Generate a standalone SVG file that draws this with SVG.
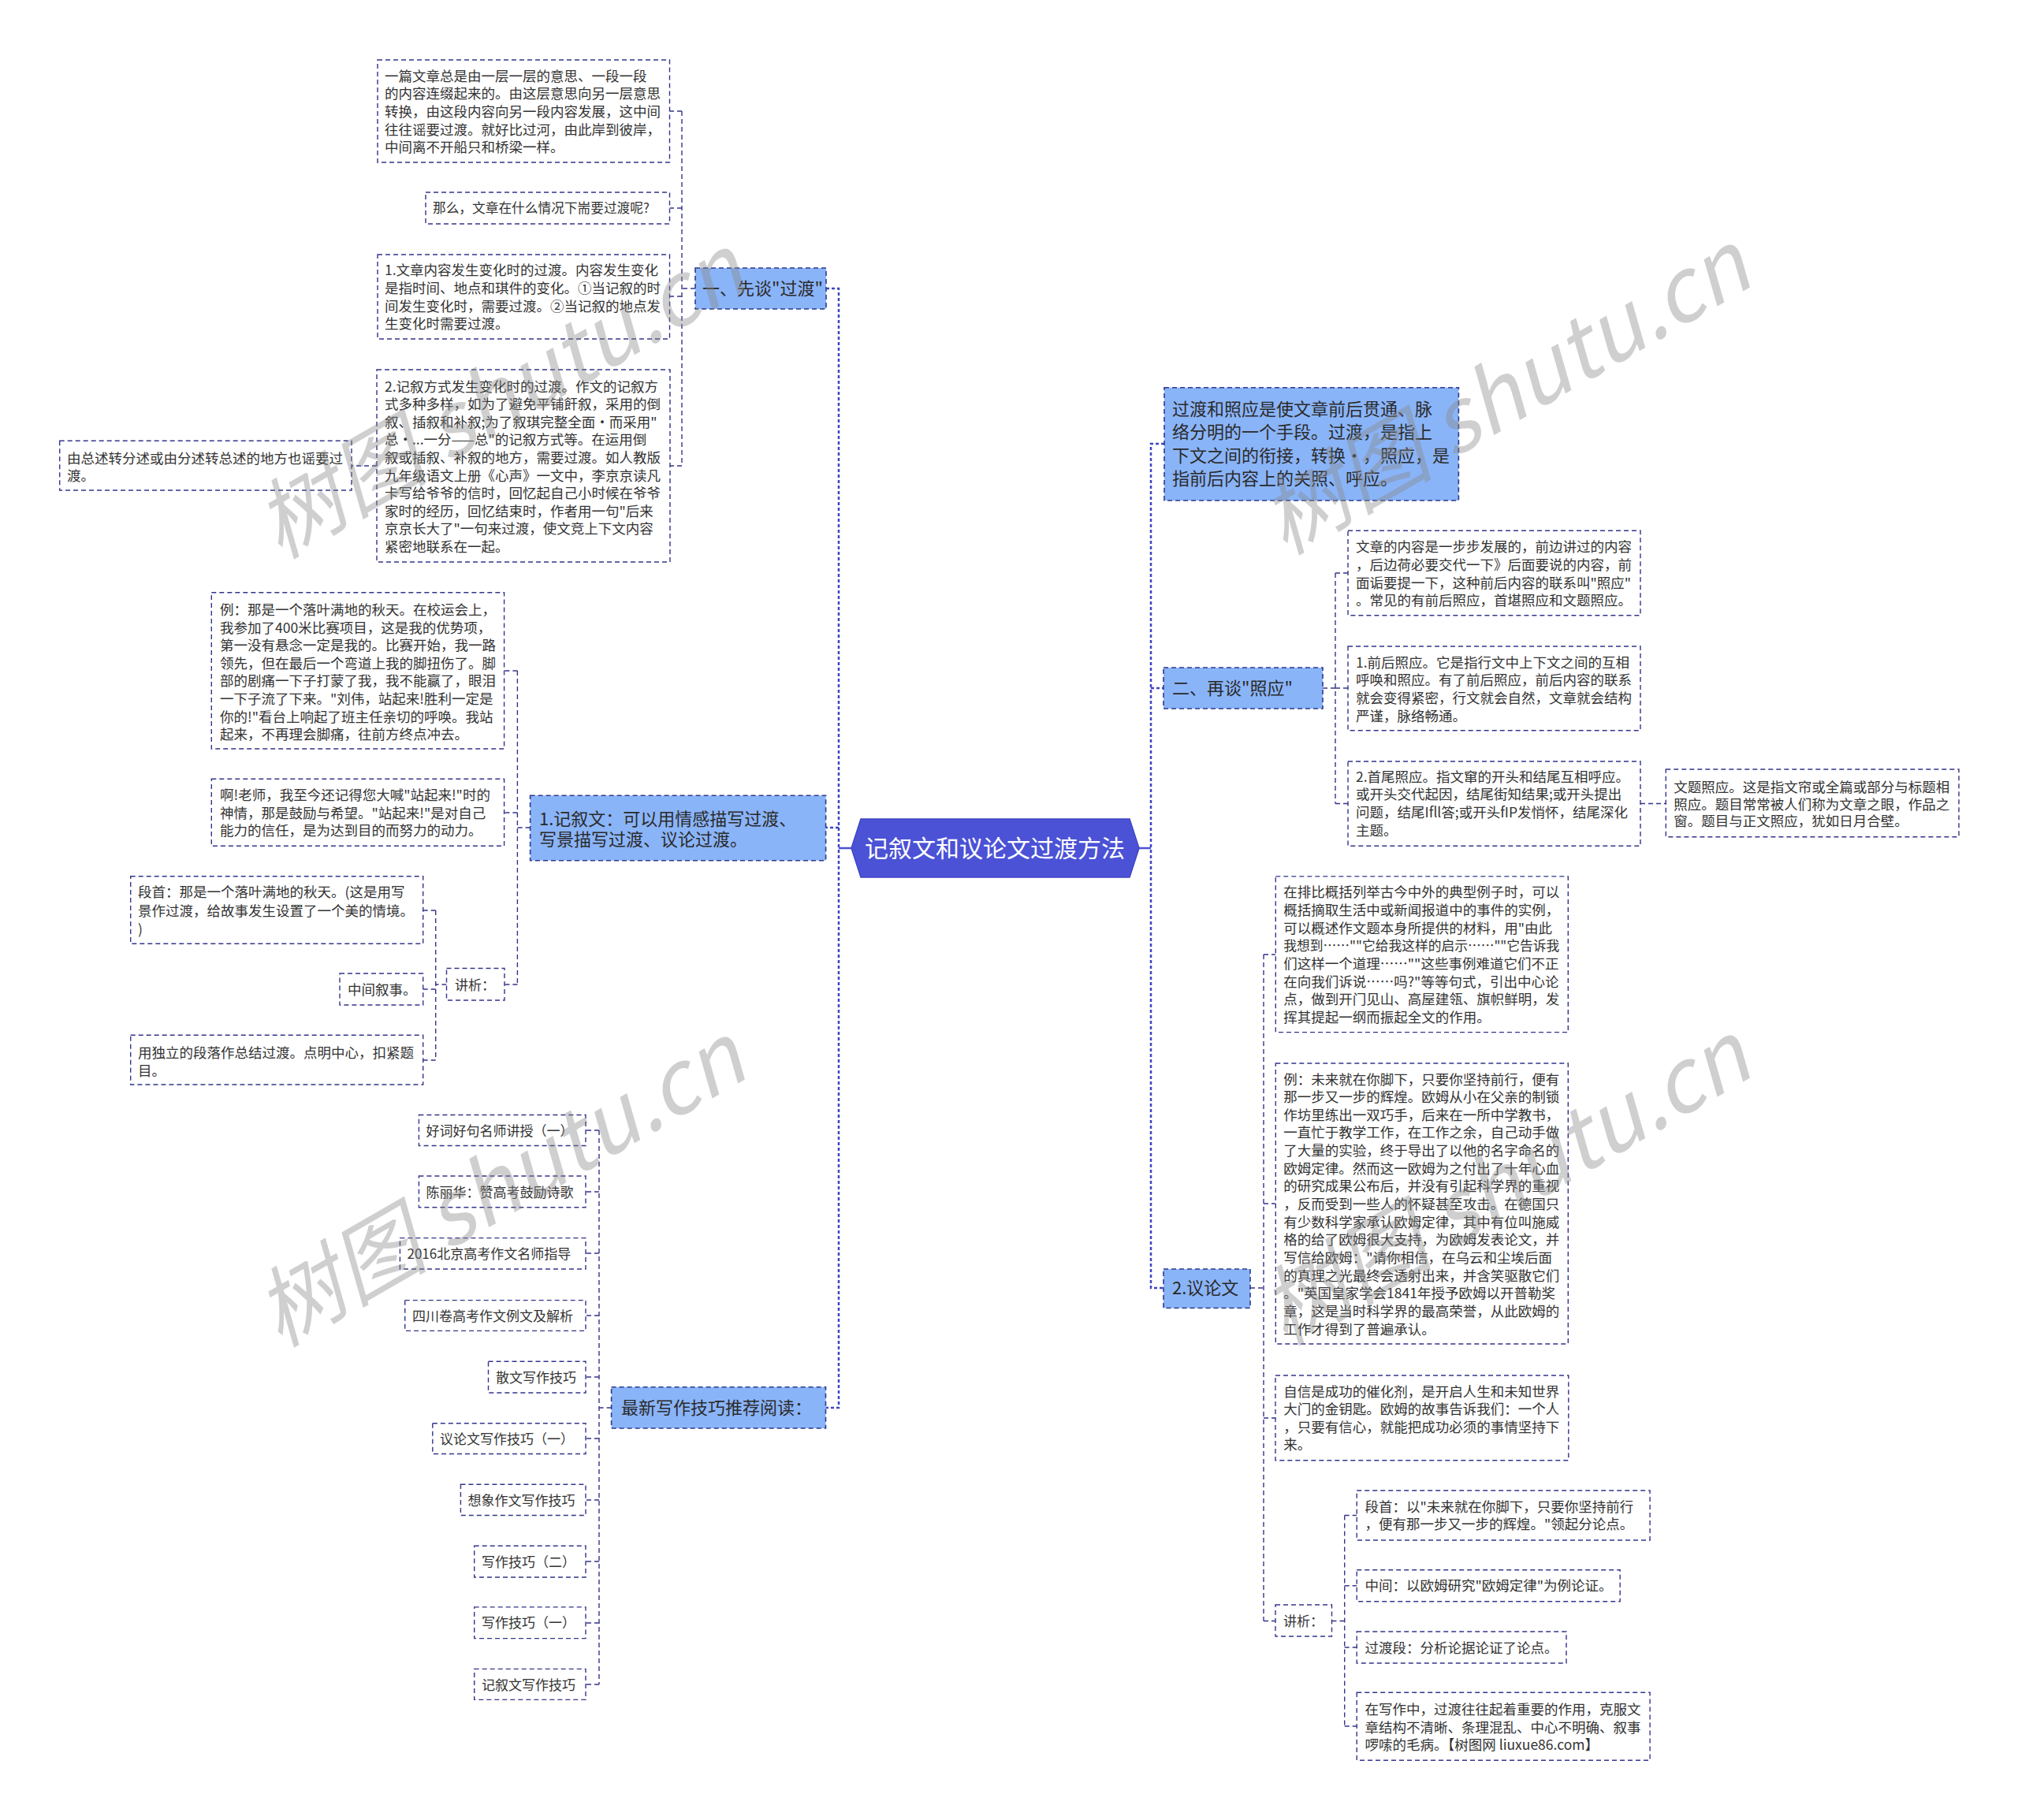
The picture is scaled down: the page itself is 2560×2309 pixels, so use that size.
<svg xmlns="http://www.w3.org/2000/svg" width="2560" height="2309" viewBox="0 0 2560 2309">
<style>
.bx{fill:#fff;stroke:#34348c;stroke-width:1.4;stroke-dasharray:6 4}
.l1{fill:#8ab4f8;stroke:#2d3a8e;stroke-width:1.6;stroke-dasharray:6 4}
.t{font-family:"Noto Sans CJK SC","Microsoft YaHei",sans-serif;font-size:17.5px;fill:#333}
.s{font-size:17px}
.t1{font-family:"Noto Sans CJK SC","Microsoft YaHei",sans-serif;font-size:22px;fill:#2a2a2a}
.rt{font-family:"Noto Sans CJK SC","Microsoft YaHei",sans-serif;font-size:30px;fill:#fff}
.c2{fill:none;stroke:#34348c;stroke-width:1.4;stroke-dasharray:6 4}
.c1{fill:none;stroke:#3d45c4;stroke-width:2.5;stroke-dasharray:4 3}
.c0{fill:none;stroke:#4b52d6;stroke-width:2.5}
.wm{font-family:"Noto Sans CJK SC","DejaVu Sans",sans-serif;font-style:italic;font-size:110px;fill:#888;opacity:0.4}
</style>
<rect width="2560" height="2309" fill="#fff"/>

<g id="connectors">
  <path class="c0" d="M1080,1076H1064M1445,1076H1460"/>
  <path class="c1" d="M1048,366H1064V1786H1047.5M1064,1050H1047.6"/>
  <path class="c1" d="M1477,563H1460V1634H1476M1460,873H1476"/>
  <path class="c2" d="M882,366H865M865,141V591M865,141H849.5M865,264H849.5M865,376H849.5M865,591H850M478,591H446"/>
  <path class="c2" d="M672.6,1050H656.4M656.4,851V1249M656.4,851H639.6M656.4,1031H639.6M656.4,1249H566.5"/>
  <path class="c2" d="M566.5,1249H552.7M552.7,1155V1345M552.7,1155H536.7M552.7,1255H536.7M552.7,1345H536.7"/>
  <path class="c2" d="M775.6,1786H760M760,1434V2137M760,1434H743M760,1512H743M760,1590H743M760,1669H743M760,1747H743M760,1825H743M760,1903H743M760,1981H743M760,2059H743M760,2137H743"/>
  <path class="c2" d="M1678,873H1694M1694,727V1019.5M1694,727H1710M1694,873H1710M1694,1019.5H1710M2081,1019.5H2113"/>
  <path class="c2" d="M1586,1634H1603M1603,1211V2056.5M1603,1211H1618M1603,1527H1618M1603,1799H1618M1603,2056.5H1618"/>
  <path class="c2" d="M1689.5,2056.5H1705.7M1705.7,1922.5V2190M1705.7,1922.5H1721M1705.7,2011.7H1721M1705.7,2090H1721M1705.7,2190H1721"/>
</g>

<g id="root">
  <polygon points="1080,1076 1092,1039 1433,1039 1445,1076 1433,1113 1092,1113" fill="#4b52d6" stroke="#3f46c8" stroke-width="1.5"/>
  <text class="rt" x="1262" y="1087.4" text-anchor="middle">记叙文和议论文过渡方法</text>
</g>

<g id="n-guodu">
  <rect class="l1" x="882" y="340" width="166" height="52"/>
  <text class="t1" x="891" y="374.4">一、先谈"过渡"</text>
</g>
<g id="n-a">
  <rect class="bx" x="479" y="76" width="370.5" height="130"/>
  <text class="t" x="488" y="102.6"><tspan x="488">一篇文章总是由一层一层的意思、一段一段</tspan><tspan x="488" dy="22.7">的内容连缀起来的。由这层意思向另一层意思</tspan><tspan x="488" dy="22.7">转换，由这段内容向另一段内容发展，这中间</tspan><tspan x="488" dy="22.7">往往谣要过渡。就好比过河，由此岸到彼岸，</tspan><tspan x="488" dy="22.7">中间离不开船只和桥梁一样。</tspan></text>
</g>
<g id="n-b">
  <rect class="bx" x="540" y="244" width="309.5" height="40"/>
  <text class="t" x="549" y="270.4" style="font-size:16.7px">那么，文章在什么情况下耑要过渡呢?</text>
</g>
<g id="n-c">
  <rect class="bx" x="479" y="323" width="370.5" height="107"/>
  <text class="t" x="488" y="349.3"><tspan x="488">1.文章内容发生变化时的过渡。内容发生变化</tspan><tspan x="488" dy="22.6">是指时间、地点和琪件的变化。①当记叙的时</tspan><tspan x="488" dy="22.6">间发生变化时，需要过渡。②当记叙的地点发</tspan><tspan x="488" dy="22.6">生变化时需要过渡。</tspan></text>
</g>
<g id="n-d">
  <rect class="bx" x="478" y="469" width="372" height="244"/>
  <text class="t" x="488" y="496.6"><tspan x="488">2.记叙方式发生变化时的过渡。作文的记叙方</tspan><tspan x="488" dy="22.6">式多种多样，如为了避免平铺飦叙，采用的倒</tspan><tspan x="488" dy="22.6">叙、插叙和补叙;为了叙琪完整全面•而采用"</tspan><tspan x="488" dy="22.6">总•...一分——总"的记叙方式等。在运用倒</tspan><tspan x="488" dy="22.6">叙或插叙、补叙的地方，需要过渡。如人教版</tspan><tspan x="488" dy="22.6">九年级语文上册《心声》一文中，李京京读凡</tspan><tspan x="488" dy="22.6">卡写给爷爷的信时，回忆起自己小时候在爷爷</tspan><tspan x="488" dy="22.6">家时的经历，回忆结束时，作者用一句"后来</tspan><tspan x="488" dy="22.6">京京长大了"一句来过渡，使文竞上下文内容</tspan><tspan x="488" dy="22.6">紧密地联系在一起。</tspan></text>
</g>
<g id="n-e">
  <rect class="bx" x="75.7" y="559.3" width="370.3" height="62.7"/>
  <text class="t" x="85" y="588.3"><tspan x="85">由总述转分述或由分述转总述的地方也谣要过</tspan><tspan x="85" dy="22">渡。</tspan></text>
</g>

<g id="n-jixuwen">
  <rect class="l1" x="672.6" y="1009.3" width="375" height="82.4"/>
  <text class="t1" x="684" y="1046.7"><tspan x="684">1.记叙文：可以用情感描写过渡、</tspan><tspan x="684" dy="26.7">写景描写过渡、议论过渡。</tspan></text>
</g>
<g id="n-f">
  <rect class="bx" x="268.3" y="751.7" width="371.3" height="198.3"/>
  <text class="t" x="279" y="780"><tspan x="279">例：那是一个落叶满地的秋天。在校运会上，</tspan><tspan x="279" dy="22.6">我参加了400米比赛项目，这是我的优势项，</tspan><tspan x="279" dy="22.6">第一没有悬念一定是我的。比赛开始，我一路</tspan><tspan x="279" dy="22.6">领先，但在最后一个弯道上我的脚扭伤了。脚</tspan><tspan x="279" dy="22.6">部的剧痛一下子打蒙了我，我不能赢了，眼泪</tspan><tspan x="279" dy="22.6">一下子流了下来。"刘伟，站起来!胜利一定是</tspan><tspan x="279" dy="22.6">你的!"看台上响起了班主任亲切的呼唤。我站</tspan><tspan x="279" dy="22.6">起来，不再理会脚痛，往前方终点冲去。</tspan></text>
</g>
<g id="n-g">
  <rect class="bx" x="268.3" y="988.3" width="371.3" height="85"/>
  <text class="t" x="279" y="1015"><tspan x="279">啊!老师，我至今还记得您大喊"站起来!"时的</tspan><tspan x="279" dy="22.5">神情，那是鼓励与希望。"站起来!"是对自己</tspan><tspan x="279" dy="22.5">能力的信任，是为达到目的而努力的动力。</tspan></text>
</g>
<g id="n-jiangxi1">
  <rect class="bx" x="566.5" y="1228.5" width="73.5" height="40.5"/>
  <text class="t s" x="577" y="1255.5">讲析：</text>
</g>
<g id="n-h">
  <rect class="bx" x="165.7" y="1111.7" width="371" height="85.6"/>
  <text class="t" x="175" y="1138.3"><tspan x="175">段首：那是一个落叶满地的秋天。(这是用写</tspan><tspan x="175" dy="23.3">景作过渡，给故事发生设置了一个美的情境。</tspan><tspan x="175" dy="23.3">)</tspan></text>
</g>
<g id="n-i">
  <rect class="bx" x="431" y="1235" width="105.7" height="40"/>
  <text class="t" x="441" y="1261.6">中间叙事。</text>
</g>
<g id="n-j">
  <rect class="bx" x="165.7" y="1313.3" width="371" height="62.7"/>
  <text class="t" x="175" y="1341.6"><tspan x="175">用独立的段落作总结过渡。点明中心，扣紧题</tspan><tspan x="175" dy="23.3">目。</tspan></text>
</g>

<g id="n-zuixin">
  <rect class="l1" x="775.6" y="1759.7" width="271.9" height="52.3"/>
  <text class="t1" x="788" y="1794.4">最新写作技巧推荐阅读：</text>
</g>
<g id="n-k1"><rect class="bx" x="531.4" y="1414.5" width="211.6" height="39"/><text class="t s" x="540.5" y="1440.5">好词好句名师讲授（一）</text></g>
<g id="n-k2"><rect class="bx" x="531.4" y="1492" width="211.6" height="39.8"/><text class="t s" x="540.5" y="1518.5">陈丽华：赞高考鼓励诗歌</text></g>
<g id="n-k3"><rect class="bx" x="507.4" y="1570.6" width="235.6" height="39.4"/><text class="t s" x="516.5" y="1596.8">2016北京高考作文名师指导</text></g>
<g id="n-k4"><rect class="bx" x="513.7" y="1649.6" width="229.3" height="38.8"/><text class="t s" x="523" y="1675.5">四川卷高考作文例文及解析</text></g>
<g id="n-k5"><rect class="bx" x="619.5" y="1727.2" width="123.5" height="39.8"/><text class="t s" x="629" y="1753.6">散文写作技巧</text></g>
<g id="n-k6"><rect class="bx" x="548.8" y="1805.7" width="194.2" height="38.8"/><text class="t s" x="558" y="1831.6">议论文写作技巧（一）</text></g>
<g id="n-k7"><rect class="bx" x="584.4" y="1883.3" width="158.6" height="39.2"/><text class="t s" x="593.5" y="1909.5">想象作文写作技巧</text></g>
<g id="n-k8"><rect class="bx" x="601.7" y="1961.3" width="141.3" height="39.7"/><text class="t s" x="611" y="1987.6">写作技巧（二）</text></g>
<g id="n-k9"><rect class="bx" x="601.7" y="2038.9" width="141.3" height="39.7"/><text class="t s" x="611" y="2065.3">写作技巧（一）</text></g>
<g id="n-k10"><rect class="bx" x="601.7" y="2117.4" width="141.3" height="39"/><text class="t s" x="611" y="2143.5">记叙文写作技巧</text></g>

<g id="n-intro">
  <rect class="l1" x="1477" y="491.7" width="373.4" height="143.3"/>
  <text class="t1" x="1487" y="526.7"><tspan x="1487">过渡和照应是使文章前后贯通、脉</tspan><tspan x="1487" dy="29.5">络分明的一个手段。过渡，是指上</tspan><tspan x="1487" dy="29.5">下文之间的衔接，转换•，照应，是</tspan><tspan x="1487" dy="29.5">指前后内容上的关照、呼应。</tspan></text>
</g>
<g id="n-zhaoying">
  <rect class="l1" x="1476" y="847" width="202" height="52"/>
  <text class="t1" x="1487" y="881.4">二、再谈"照应"</text>
</g>
<g id="n-l">
  <rect class="bx" x="1710" y="673.3" width="371" height="107.4"/>
  <text class="t" x="1720" y="700"><tspan x="1720">文章的内容是一步步发展的，前边讲过的内容</tspan><tspan x="1720" dy="22.8">，后边荷必要交代一下》后面要说的内容，前</tspan><tspan x="1720" dy="22.8">面诟要提一下，这种前后内容的联系叫"照应"</tspan><tspan x="1720" dy="22.8">。常见的有前后照应，首堪照应和文题照应。</tspan></text>
</g>
<g id="n-m">
  <rect class="bx" x="1710" y="820" width="371" height="106.7"/>
  <text class="t" x="1720" y="846.6"><tspan x="1720">1.前后照应。它是指行文中上下文之间的互相</tspan><tspan x="1720" dy="22.8">呼唤和照应。有了前后照应，前后内容的联系</tspan><tspan x="1720" dy="22.8">就会变得紧密，行文就会自然，文章就会结构</tspan><tspan x="1720" dy="22.8">严谨，脉络畅通。</tspan></text>
</g>
<g id="n-n">
  <rect class="bx" x="1710" y="966" width="371" height="107.3"/>
  <text class="t" x="1720" y="991.6"><tspan x="1720">2.首尾照应。指文窜的开头和结尾互相呼应。</tspan><tspan x="1720" dy="22.8">或开头交代起因，结尾街知结果;或开头提出</tspan><tspan x="1720" dy="22.8">问题，结尾Ifll答;或开头fIP发悄怀，结尾深化</tspan><tspan x="1720" dy="22.8">主题。</tspan></text>
</g>
<g id="n-o">
  <rect class="bx" x="2113.3" y="976" width="371.7" height="85.7"/>
  <text class="t" x="2123.3" y="1005"><tspan x="2123.3">文题照应。这是指文帘或全篇或部分与标题相</tspan><tspan x="2123.3" dy="21.7">照应。题目常常被人们称为文章之眼，作品之</tspan><tspan x="2123.3" dy="21.7">窗。题目与正文照应，犹如日月合壁。</tspan></text>
</g>

<g id="n-yilunwen">
  <rect class="l1" x="1476" y="1610" width="110" height="49.5"/>
  <text class="t1" x="1487" y="1642.4">2.议论文</text>
</g>
<g id="n-p">
  <rect class="bx" x="1618.3" y="1111.9" width="371" height="197.7"/>
  <text class="t" x="1628.3" y="1138.2"><tspan x="1628.3">在排比概括列举古今中外的典型例子时，可以</tspan><tspan x="1628.3" dy="22.7">概括摘取生活中或新闻报道中的事件的实例，</tspan><tspan x="1628.3" dy="22.7">可以概述作文题本身所提供的材料，用"由此</tspan><tspan x="1628.3" dy="22.7" textLength="350" lengthAdjust="spacingAndGlyphs">我想到……""它给我这样的启示……""它告诉我</tspan><tspan x="1628.3" dy="22.7">们这样一个道理……""这些事例难道它们不正</tspan><tspan x="1628.3" dy="22.7">在向我们诉说……吗?"等等句式，引出中心论</tspan><tspan x="1628.3" dy="22.7">点，做到开门见山、高屋建瓴、旗帜鲜明，发</tspan><tspan x="1628.3" dy="22.7">挥其提起一纲而振起全文的作用。</tspan></text>
</g>
<g id="n-q">
  <rect class="bx" x="1618.3" y="1349" width="371" height="356"/>
  <text class="t" x="1628.3" y="1375.5"><tspan x="1628.3">例：未来就在你脚下，只要你坚持前行，便有</tspan><tspan x="1628.3" dy="22.65">那一步又一步的辉煌。欧姆从小在父亲的制锁</tspan><tspan x="1628.3" dy="22.65">作坊里练出一双巧手，后来在一所中学教书，</tspan><tspan x="1628.3" dy="22.65">一直忙于教学工作，在工作之余，自己动手做</tspan><tspan x="1628.3" dy="22.65">了大量的实验，终于导出了以他的名字命名的</tspan><tspan x="1628.3" dy="22.65">欧姆定律。然而这一欧姆为之付出了十年心血</tspan><tspan x="1628.3" dy="22.65">的研究成果公布后，并没有引起科学界的重视</tspan><tspan x="1628.3" dy="22.65">，反而受到一些人的怀疑甚至攻击。在德国只</tspan><tspan x="1628.3" dy="22.65">有少数科学家承认欧姆定律，其中有位叫施威</tspan><tspan x="1628.3" dy="22.65">格的给了欧姆很大支持，为欧姆发表论文，并</tspan><tspan x="1628.3" dy="22.65">写信给欧姆："请你相信，在乌云和尘埃后面</tspan><tspan x="1628.3" dy="22.65">的真理之光最终会透射出来，并含笑驱散它们</tspan><tspan x="1628.3" dy="22.65">。"英国皇家学会1841年授予欧姆以开普勒奖</tspan><tspan x="1628.3" dy="22.65">章，这是当时科学界的最高荣誉，从此欧姆的</tspan><tspan x="1628.3" dy="22.65">工作才得到了普遍承认。</tspan></text>
</g>
<g id="n-r">
  <rect class="bx" x="1618" y="1745" width="371.8" height="107.7"/>
  <text class="t" x="1628.2" y="1771.6"><tspan x="1628.2">自信是成功的催化剂，是开启人生和未知世界</tspan><tspan x="1628.2" dy="22.6">大门的金钥匙。欧姆的故事告诉我们：一个人</tspan><tspan x="1628.2" dy="22.6">，只要有信心，就能把成功必须的事情坚持下</tspan><tspan x="1628.2" dy="22.6">来。</tspan></text>
</g>
<g id="n-jiangxi2">
  <rect class="bx" x="1618" y="2036" width="71.5" height="40"/>
  <text class="t s" x="1628" y="2063">讲析：</text>
</g>
<g id="n-s">
  <rect class="bx" x="1721.2" y="1891" width="371.9" height="63"/>
  <text class="t" x="1731.5" y="1918.3"><tspan x="1731.5">段首：以"未来就在你脚下，只要你坚持前行</tspan><tspan x="1731.5" dy="21.6">，便有那一步又一步的辉煌。"领起分论点。</tspan></text>
</g>
<g id="n-t">
  <rect class="bx" x="1721.2" y="1991.7" width="334" height="40"/>
  <text class="t" x="1731.5" y="2018.3">中间：以欧姆研究"欧姆定律"为例论证。</text>
</g>
<g id="n-u">
  <rect class="bx" x="1721.2" y="2070" width="265.8" height="40"/>
  <text class="t" x="1731.5" y="2096.6">过渡段：分析论据论证了论点。</text>
</g>
<g id="n-v">
  <rect class="bx" x="1721.2" y="2147.3" width="371.9" height="86"/>
  <text class="t" x="1731.5" y="2175"><tspan x="1731.5">在写作中，过渡往往起着重要的作用，克服文</tspan><tspan x="1731.5" dy="22.5">章结构不清晰、条理混乱、中心不明确、叙事</tspan><tspan x="1731.5" dy="22.5">啰嗦的毛病。【树图网 liuxue86.com】</tspan></text>
</g>

<g id="watermarks">
  <text class="wm" transform="translate(355,710) rotate(-30)">树图 shutu.cn</text>
  <text class="wm" transform="translate(1630,705) rotate(-30)">树图 shutu.cn</text>
  <text class="wm" transform="translate(355,1710) rotate(-30)">树图 shutu.cn</text>
  <text class="wm" transform="translate(1630,1708) rotate(-30)">树图 shutu.cn</text>
</g>
</svg>
